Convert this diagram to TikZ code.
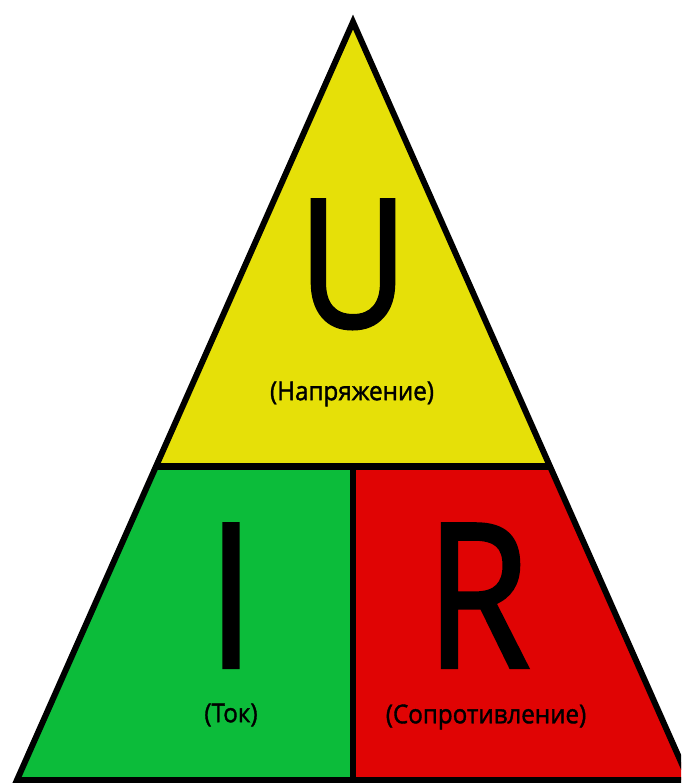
\documentclass[tikz,border=0pt]{standalone}
\usepackage{fontspec}
\setmainfont{Open Sans}
\newfontfamily\boldish[FakeBold=2]{Open Sans}
\newfontfamily\capfont[FakeBold=1.5]{Open Sans}
\definecolor{uyellow}{RGB}{230,224,8}
\definecolor{igreen}{RGB}{12,188,58}
\definecolor{rred}{RGB}{224,4,4}
\tikzset{
  edge/.style={draw=black,line width=6pt,line join=miter},
  bigletter/.style={inner sep=0pt,anchor=base,xscale=0.84,text depth=0pt},
  caption/.style={inner sep=0pt,font=\capfont\fontsize{26}{30}\selectfont,xscale=0.93}
}
\begin{document}
\begin{tikzpicture}[x=1pt,y=-1pt]
\useasboundingbox (0,0) rectangle (681,783);
\clip (0,0) rectangle (681,783);
\fill[white] (0,0) rectangle (681,783);
\coordinate (A) at (353,22);
\coordinate (BL) at (17,780);
\coordinate (BR) at (689,780);
\coordinate (ML) at (157,466);
\coordinate (MR) at (549,466);
\coordinate (MM) at (353,466);
\coordinate (BM) at (353,780);
\fill[uyellow] (A) -- (MR) -- (ML) -- cycle;
\fill[igreen] (ML) -- (MM) -- (BM) -- (BL) -- cycle;
\fill[rred] (MM) -- (MR) -- (BR) -- (BM) -- cycle;
\draw[edge] (MM) -- (BM);
\draw[edge,line width=7pt] (ML) -- (MR);
\draw[edge] (A) -- (BR) -- (BL) -- cycle;
\node[bigletter,font=\boldish\fontsize{178}{180}\selectfont] (u) at (353,327) {U};
\node[bigletter,font=\boldish\fontsize{200}{200}\selectfont] (i) at (231,667) {I};
\node[bigletter,font=\boldish\fontsize{200}{200}\selectfont] (r) at (478,667) {R};
\node[caption] (un) at (352,394) {(Напряжение)};
\node[caption] (in) at (231,715) {(Ток)};
\node[caption] (rn) at (486,717) {(Сопротивление)};
\end{tikzpicture}
\end{document}
